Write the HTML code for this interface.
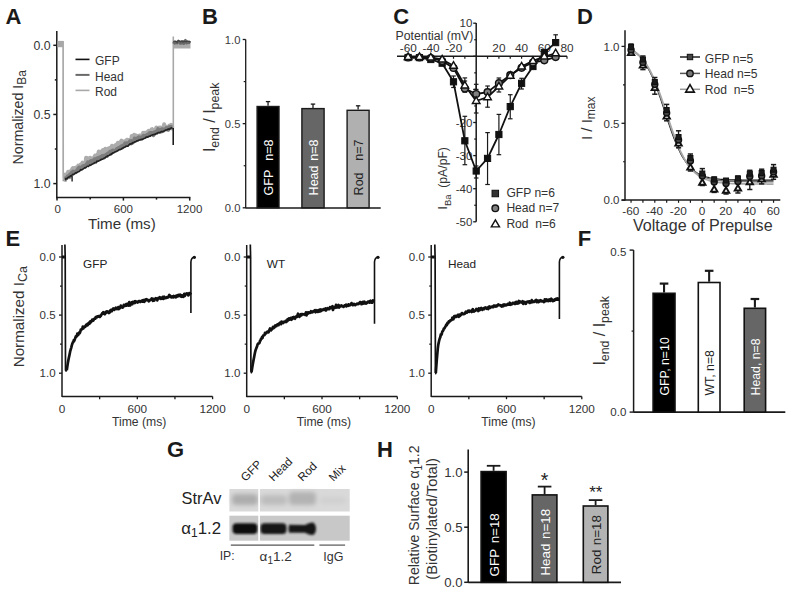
<!DOCTYPE html>
<html><head><meta charset="utf-8"><style>
html,body{margin:0;padding:0;background:#fff;}
svg{display:block;font-family:"Liberation Sans", sans-serif;}
</style></head><body>
<svg width="795" height="593" viewBox="0 0 795 593">
<rect width="795" height="593" fill="#fff"/>
<text x="5.5" y="24" font-size="22" fill="#1a1a1a" text-anchor="start" font-weight="bold" >A</text>
<line x1="56.8" y1="31" x2="56.8" y2="198.35" stroke="#1a1a1a" stroke-width="1.5"/>
<line x1="56.05" y1="197.6" x2="190.45" y2="197.6" stroke="#1a1a1a" stroke-width="1.5"/>
<line x1="53.3" y1="45.3" x2="56.8" y2="45.3" stroke="#1a1a1a" stroke-width="1.5"/>
<line x1="53.3" y1="114.45" x2="56.8" y2="114.45" stroke="#1a1a1a" stroke-width="1.5"/>
<line x1="53.3" y1="183.6" x2="56.8" y2="183.6" stroke="#1a1a1a" stroke-width="1.5"/>
<line x1="54.8" y1="79.88" x2="56.8" y2="79.88" stroke="#1a1a1a" stroke-width="1.5"/>
<line x1="54.8" y1="149.02" x2="56.8" y2="149.02" stroke="#1a1a1a" stroke-width="1.5"/>
<line x1="57" y1="197.6" x2="57" y2="200.6" stroke="#1a1a1a" stroke-width="1.5"/>
<line x1="123.4" y1="197.6" x2="123.4" y2="200.6" stroke="#1a1a1a" stroke-width="1.5"/>
<line x1="189.7" y1="197.6" x2="189.7" y2="200.6" stroke="#1a1a1a" stroke-width="1.5"/>
<line x1="90.2" y1="197.6" x2="90.2" y2="199.6" stroke="#1a1a1a" stroke-width="1.5"/>
<line x1="156.5" y1="197.6" x2="156.5" y2="199.6" stroke="#1a1a1a" stroke-width="1.5"/>
<text x="50.5" y="49.7" font-size="12.3" fill="#333" text-anchor="end" font-weight="normal" >0.0</text>
<text x="50.5" y="118.85" font-size="12.3" fill="#333" text-anchor="end" font-weight="normal" >0.5</text>
<text x="50.5" y="188" font-size="12.3" fill="#333" text-anchor="end" font-weight="normal" >1.0</text>
<text x="57.7" y="212.5" font-size="11.5" fill="#333" text-anchor="middle" font-weight="normal" >0</text>
<text x="123.4" y="212.5" font-size="11.5" fill="#333" text-anchor="middle" font-weight="normal" >600</text>
<text x="189.5" y="212.5" font-size="11.5" fill="#333" text-anchor="middle" font-weight="normal" >1200</text>
<text x="88" y="229.2" font-size="15.2" fill="#333" text-anchor="start" font-weight="normal" >Time (ms)</text>
<text transform="translate(22.8,164.4) rotate(-90)" font-size="14.2" fill="#333" text-anchor="start" >Normalized I<tspan font-size="12" dy="3.5">Ba</tspan></text>
<line x1="75.5" y1="59.4" x2="89.5" y2="59.4" stroke="#111" stroke-width="1.6"/>
<line x1="75.5" y1="74.9" x2="89.5" y2="74.9" stroke="#6a6a6a" stroke-width="2"/>
<line x1="75.5" y1="90.4" x2="89.5" y2="90.4" stroke="#a8a8a8" stroke-width="1.6"/>
<text x="95" y="64.9" font-size="12" fill="#333" text-anchor="start" font-weight="normal" >GFP</text>
<text x="95" y="80.7" font-size="12" fill="#333" text-anchor="start" font-weight="normal" >Head</text>
<text x="95" y="96" font-size="12" fill="#333" text-anchor="start" font-weight="normal" >Rod</text>
<polyline points="64.5,181.36 65.1,174.46 65.7,177.94 66.3,175.87 66.9,175.34 67.5,174.98 68.1,171.77 68.7,173.58 69.3,172 69.9,177.18 70.5,172.15 71.1,170.65 71.7,170.07 72.3,168.95 72.9,168.05 73.5,168.63 74.1,169.49 74.7,168.13 75.3,169.45 75.9,167.47 76.5,167.43 77.1,169.21 77.7,167.45 78.3,165.63 78.9,165.72 79.5,166.38 80.1,167.98 80.7,164.54 81.3,164.22 81.9,165.61 82.5,162.61 83.1,163.09 83.7,164.38 84.3,163.6 84.9,162.56 85.5,163.02 86.1,157.76 86.7,162.8 87.3,159.67 87.9,158.32 88.5,160.69 89.1,160.93 89.7,158.97 90.3,157.74 90.9,158.98 91.5,158.57 92.1,160.31 92.7,159.09 93.3,158.01 93.9,158.99 94.5,156.85 95.1,155.54 95.7,157.35 96.3,157.05 96.9,155.63 97.5,154.53 98.1,155.64 98.7,151.53 99.3,155.69 99.9,155.11 100.5,151.82 101.1,153.9 101.7,152.16 102.3,154.27 102.9,150.06 103.5,151.33 104.1,153.3 104.7,153.62 105.3,148.68 105.9,150.68 106.5,151.51 107.1,149.87 107.7,152.62 108.3,148.4 108.9,150.24 109.5,147.95 110.1,151.06 110.7,148.74 111.3,147.92 111.9,145.71 112.5,150.14 113.1,148.52 113.7,148.19 114.3,148.41 114.9,146.98 115.5,145.27 116.1,144.71 116.7,144.39 117.3,147.1 117.9,142.81 118.5,143.7 119.1,143.76 119.7,144.19 120.3,144.36 120.9,141.55 121.5,140.63 122.1,142.81 122.7,144.27 123.3,143.39 123.9,142.39 124.5,141.4 125.1,142.01 125.7,141.02 126.3,142.26 126.9,139.76 127.5,140.82 128.1,140.23 128.7,140.91 129.3,140.22 129.9,143.23 130.5,141.52 131.1,141.27 131.7,136.08 132.3,138.22 132.9,137.6 133.5,138.95 134.1,134.77 134.7,139.37 135.3,138.97 135.9,135.42 136.5,135.63 137.1,135.64 137.7,136.59 138.3,137.18 138.9,138.92 139.5,135.53 140.1,136.65 140.7,135.55 141.3,137.56 141.9,135.9 142.5,136.53 143.1,132.87 143.7,133.87 144.3,132.76 144.9,135.77 145.5,134.35 146.1,132.76 146.7,132.32 147.3,133.39 147.9,131.49 148.5,130.93 149.1,132.67 149.7,135.21 150.3,131.17 150.9,130.53 151.5,129.49 152.1,129.07 152.7,131.5 153.3,131.77 153.9,130.41 154.5,130.68 155.1,130.19 155.7,130.04 156.3,127.53 156.9,128.84 157.5,129.45 158.1,128.02 158.7,128.27 159.3,127.6 159.9,128.1 160.5,129.58 161.1,127.63 161.7,127.8 162.3,128.97 162.9,128.56 163.5,129.84 164.1,124.36 164.7,128.3 165.3,126.25 165.9,126.95 166.5,127.81 167.1,128.03 167.7,127.84 168.3,126.48 168.9,128.4 169.5,125.62 170.1,125.7 170.7,126.89 171.3,124.88 171.9,128.55 172.5,126.83" fill="none" stroke="#acacac" stroke-width="4.0" stroke-linejoin="round" />
<polyline points="64.5,181.14 65.1,179.03 65.7,178.23 66.3,178.15 66.9,178.08 67.5,176.51 68.1,176.76 68.7,175.93 69.3,176.71 69.9,174.37 70.5,175.22 71.1,173.35 71.7,172.58 72.3,172.32 72.9,171.59 73.5,172.32 74.1,172.69 74.7,171.65 75.3,171.68 75.9,172.15 76.5,170.72 77.1,170.32 77.7,169.6 78.3,168.19 78.9,169.75 79.5,167.39 80.1,168.98 80.7,168.1 81.3,168.68 81.9,167.38 82.5,166.43 83.1,167.04 83.7,165.96 84.3,165.93 84.9,165.76 85.5,165.28 86.1,164.9 86.7,164.04 87.3,164.22 87.9,162.32 88.5,163.56 89.1,162.39 89.7,163.9 90.3,163.69 90.9,160.81 91.5,162.19 92.1,161.67 92.7,160.63 93.3,161.6 93.9,160.5 94.5,159.16 95.1,160.06 95.7,159.86 96.3,159.76 96.9,158.39 97.5,159.57 98.1,159.36 98.7,157.56 99.3,157.65 99.9,157.81 100.5,157.12 101.1,158.67 101.7,157.14 102.3,155.87 102.9,155.75 103.5,156.03 104.1,157.62 104.7,155.34 105.3,155.28 105.9,155.26 106.5,154.49 107.1,156.02 107.7,153.44 108.3,154.13 108.9,153.34 109.5,153.38 110.1,151.61 110.7,153.64 111.3,151.8 111.9,151.6 112.5,150.49 113.1,150.33 113.7,151.04 114.3,151.05 114.9,150.53 115.5,150.57 116.1,149.84 116.7,148.97 117.3,149.28 117.9,148.76 118.5,147.88 119.1,148.21 119.7,148.33 120.3,147.16 120.9,146.41 121.5,146.99 122.1,147.66 122.7,145.69 123.3,145.51 123.9,145.2 124.5,146.01 125.1,143.29 125.7,144.78 126.3,145.16 126.9,143.28 127.5,144.85 128.1,143.81 128.7,142.67 129.3,142.99 129.9,141.33 130.5,141.83 131.1,143.46 131.7,141.01 132.3,142.93 132.9,141.11 133.5,141.69 134.1,140.66 134.7,138.55 135.3,139.61 135.9,139.97 136.5,138.66 137.1,138.26 137.7,139.39 138.3,138.34 138.9,137.26 139.5,137.83 140.1,138.82 140.7,137.51 141.3,138.4 141.9,138.63 142.5,137.2 143.1,136.03 143.7,135.65 144.3,136.43 144.9,136.91 145.5,136.18 146.1,136.16 146.7,135.13 147.3,135.48 147.9,134.63 148.5,134.5 149.1,133.49 149.7,133.02 150.3,133.65 150.9,132.93 151.5,132.85 152.1,133.96 152.7,133.14 153.3,135.35 153.9,133.56 154.5,132.12 155.1,133.05 155.7,132.51 156.3,131.48 156.9,132.71 157.5,131.01 158.1,128.98 158.7,131.86 159.3,130.53 159.9,132.02 160.5,130.11 161.1,129.48 161.7,131.47 162.3,129.17 162.9,129.99 163.5,130.79 164.1,129.52 164.7,129.17 165.3,129.11 165.9,129.51 166.5,127.99 167.1,128.93 167.7,128.7 168.3,129.91 168.9,127.58 169.5,126.92 170.1,128.04 170.7,126.94 171.3,127.29 171.9,126.97 172.5,127.6" fill="none" stroke="#7d7d7d" stroke-width="3.8" stroke-linejoin="round" />
<polyline points="64.5,179.8 65.1,179.7 65.7,178.56 66.3,178.65 66.9,178.97 67.5,177.9 68.1,177.49 68.7,176.93 69.3,177.07 69.9,176.54 70.5,175.73 71.1,175.88 71.7,175.35 72.3,175.12 72.9,174.37 73.5,174.75 74.1,174.02 74.7,173.53 75.3,173.08 75.9,172.83 76.5,172.83 77.1,172.16 77.7,172.23 78.3,171.75 78.9,171.65 79.5,171.16 80.1,170.56 80.7,169.68 81.3,170.01 81.9,169.82 82.5,169.3 83.1,169.09 83.7,168.45 84.3,168.15 84.9,167.65 85.5,168.01 86.1,167.31 86.7,166.79 87.3,166.2 87.9,166.22 88.5,166.37 89.1,165.75 89.7,165.06 90.3,165.38 90.9,165.08 91.5,164.65 92.1,164.29 92.7,164.1 93.3,163.62 93.9,163.39 94.5,162.63 95.1,163.02 95.7,162.34 96.3,162.58 96.9,161.06 97.5,161.59 98.1,161.37 98.7,160.68 99.3,160.62 99.9,160.41 100.5,160.06 101.1,159.42 101.7,159.25 102.3,159.3 102.9,159.08 103.5,158.42 104.1,158.12 104.7,157.86 105.3,157.81 105.9,156.85 106.5,156.44 107.1,156.55 107.7,155.85 108.3,155.67 108.9,155.55 109.5,155.34 110.1,154.54 110.7,154.77 111.3,153.67 111.9,154.04 112.5,153.07 113.1,152.83 113.7,153.08 114.3,152.43 114.9,151.98 115.5,151.76 116.1,151.7 116.7,151.22 117.3,150.9 117.9,150.89 118.5,150.03 119.1,149.77 119.7,149.43 120.3,149.61 120.9,149.25 121.5,149.04 122.1,148.35 122.7,148.01 123.3,148.02 123.9,147.34 124.5,147.41 125.1,147.08 125.7,146.36 126.3,146.24 126.9,145.94 127.5,146.19 128.1,146.15 128.7,145.05 129.3,144.78 129.9,143.8 130.5,144.25 131.1,143.88 131.7,143.27 132.3,143.53 132.9,142.52 133.5,142.63 134.1,142.44 134.7,141.72 135.3,142.06 135.9,141.86 136.5,140.88 137.1,140.63 137.7,140.99 138.3,140.56 138.9,139.96 139.5,140 140.1,139.81 140.7,139.56 141.3,139.61 141.9,139.23 142.5,139.4 143.1,139.04 143.7,138.59 144.3,138.47 144.9,138.3 145.5,137.87 146.1,137.05 146.7,137.43 147.3,136.95 147.9,137.18 148.5,136.48 149.1,136.36 149.7,136.06 150.3,136.23 150.9,135.55 151.5,135.2 152.1,135.17 152.7,134.73 153.3,134.7 153.9,134.44 154.5,134.31 155.1,134.6 155.7,133.69 156.3,133.61 156.9,133.33 157.5,133.38 158.1,132.61 158.7,132.55 159.3,132.53 159.9,132.5 160.5,132.11 161.1,131.76 161.7,131.44 162.3,131.65 162.9,131.72 163.5,131.17 164.1,130.92 164.7,130.78 165.3,130.16 165.9,130.12 166.5,129.89 167.1,129.81 167.7,129.47 168.3,128.87 168.9,129.32 169.5,129.25 170.1,128.41 170.7,128.36 171.3,128.08 171.9,127.99 172.5,127.06" fill="none" stroke="#222" stroke-width="1.6" stroke-linejoin="round" />
<rect x="57.5" y="40.9" width="5.6" height="6.3" fill="#a8a8a8" stroke="none" stroke-width="0"/>
<path d="M63.1,41 L63.2,176 Q63.4,180.5 65,180.8" fill="none" stroke="#a9a9a9" stroke-width="1.7"/>
<line x1="72.1" y1="176" x2="72.1" y2="181.5" stroke="#111" stroke-width="1.3"/>
<line x1="173.2" y1="128" x2="173.2" y2="145" stroke="#111" stroke-width="1.5"/>
<line x1="173.3" y1="36.5" x2="173.3" y2="128" stroke="#a9a9a9" stroke-width="1.6"/>
<rect x="173.5" y="41" width="17" height="7.5" fill="#ababab" stroke="none" stroke-width="0"/>
<polyline points="173.5,43.63 174.1,42.17 174.7,43.38 175.3,42.56 175.9,42.23 176.5,42.4 177.1,43.13 177.7,41.9 178.3,42.24 178.9,42.16 179.5,41.3 180.1,43.41 180.7,42.91 181.3,42.49 181.9,43.31 182.5,41.83 183.1,42.45 183.7,43.71 184.3,43.19 184.9,40.94 185.5,40.17 186.1,41.77 186.7,43.24 187.3,42.17 187.9,42.35 188.5,42.93 189.1,41.88 189.7,42.65 190.3,43.05" fill="none" stroke="#6a6a6a" stroke-width="2.6" stroke-linejoin="round" />
<polyline points="173.5,41.53 174.1,41.5 174.7,41 175.3,41.56 175.9,41.09 176.5,41.95 177.1,42.59 177.7,40.93 178.3,40.21 178.9,41.09 179.5,41.49 180.1,41.83 180.7,41.84 181.3,40.91 181.9,40.9 182.5,41.93 183.1,40.75 183.7,41.85 184.3,41.19 184.9,41.68 185.5,41.65 186.1,41.69 186.7,41.71 187.3,40.81 187.9,41.45 188.5,41.31 189.1,41.45 189.7,41.92 190.3,41.16" fill="none" stroke="#444" stroke-width="1.2" stroke-linejoin="round" />
<text x="202" y="24.3" font-size="22" fill="#1a1a1a" text-anchor="start" font-weight="bold" >B</text>
<line x1="245.7" y1="39.5" x2="245.7" y2="208.3" stroke="#1a1a1a" stroke-width="1.3"/>
<line x1="245.7" y1="208.1" x2="380.7" y2="208.1" stroke="#1a1a1a" stroke-width="1.5"/>
<line x1="242.7" y1="39.5" x2="245.7" y2="39.5" stroke="#1a1a1a" stroke-width="1.3"/>
<line x1="242.7" y1="123.65" x2="245.7" y2="123.65" stroke="#1a1a1a" stroke-width="1.3"/>
<line x1="242.7" y1="207.8" x2="245.7" y2="207.8" stroke="#1a1a1a" stroke-width="1.3"/>
<line x1="243.7" y1="81.58" x2="245.7" y2="81.58" stroke="#1a1a1a" stroke-width="1.2"/>
<line x1="243.7" y1="165.73" x2="245.7" y2="165.73" stroke="#1a1a1a" stroke-width="1.2"/>
<text x="240.4" y="43.7" font-size="11.2" fill="#3a3a3a" text-anchor="end" font-weight="normal" >1.0</text>
<text x="240.4" y="127.85" font-size="11.2" fill="#3a3a3a" text-anchor="end" font-weight="normal" >0.5</text>
<text x="240.4" y="212" font-size="11.2" fill="#3a3a3a" text-anchor="end" font-weight="normal" >0.0</text>
<line x1="268.05" y1="101.6" x2="268.05" y2="105.8" stroke="#1a1a1a" stroke-width="1.3"/>
<line x1="265.85" y1="101.6" x2="270.25" y2="101.6" stroke="#1a1a1a" stroke-width="1.3"/>
<rect x="257.1" y="106.5" width="21.9" height="101.3" fill="#000" stroke="#1a1a1a" stroke-width="1.4"/>
<text transform="translate(272.75,195.4) rotate(-90)" font-size="12.5" fill="#fff" text-anchor="start" >GFP</text>
<text transform="translate(272.75,139.5) rotate(-90)" font-size="12.5" fill="#fff" text-anchor="end" >n=8</text>
<line x1="313" y1="104.1" x2="313" y2="107.9" stroke="#1a1a1a" stroke-width="1.3"/>
<line x1="310.8" y1="104.1" x2="315.2" y2="104.1" stroke="#1a1a1a" stroke-width="1.3"/>
<rect x="301.9" y="108.6" width="22.2" height="99.2" fill="#666" stroke="#1a1a1a" stroke-width="1.4"/>
<text transform="translate(317.7,195.4) rotate(-90)" font-size="12.5" fill="#fff" text-anchor="start" >Head</text>
<text transform="translate(317.7,139.5) rotate(-90)" font-size="12.5" fill="#fff" text-anchor="end" >n=8</text>
<line x1="358.1" y1="105.8" x2="358.1" y2="109.6" stroke="#1a1a1a" stroke-width="1.3"/>
<line x1="355.9" y1="105.8" x2="360.3" y2="105.8" stroke="#1a1a1a" stroke-width="1.3"/>
<rect x="347.1" y="110.3" width="22" height="97.5" fill="#b0b0b0" stroke="#1a1a1a" stroke-width="1.4"/>
<text transform="translate(362.8,195.4) rotate(-90)" font-size="12.5" fill="#222" text-anchor="start" >Rod</text>
<text transform="translate(362.8,139.5) rotate(-90)" font-size="12.5" fill="#222" text-anchor="end" >n=7</text>
<text transform="translate(215.2,152.1) rotate(-90)" font-size="15.8" fill="#333" text-anchor="start" >I<tspan font-size="12.4" dy="3.5">end</tspan><tspan dy="-3.5" xml:space="preserve"> / I</tspan><tspan font-size="12.4" dy="3.5">peak</tspan></text>
<text x="393.2" y="23.9" font-size="22" fill="#1a1a1a" text-anchor="start" font-weight="bold" >C</text>
<line x1="476.2" y1="23" x2="476.2" y2="221.8" stroke="#1a1a1a" stroke-width="1.5"/>
<line x1="397" y1="56.3" x2="567" y2="56.3" stroke="#1a1a1a" stroke-width="1.5"/>
<line x1="473.2" y1="23.2" x2="476.2" y2="23.2" stroke="#1a1a1a" stroke-width="1.3"/>
<line x1="473.2" y1="56.3" x2="476.2" y2="56.3" stroke="#1a1a1a" stroke-width="1.3"/>
<line x1="473.2" y1="89.4" x2="476.2" y2="89.4" stroke="#1a1a1a" stroke-width="1.3"/>
<line x1="473.2" y1="122.5" x2="476.2" y2="122.5" stroke="#1a1a1a" stroke-width="1.3"/>
<line x1="473.2" y1="155.6" x2="476.2" y2="155.6" stroke="#1a1a1a" stroke-width="1.3"/>
<line x1="473.2" y1="188.7" x2="476.2" y2="188.7" stroke="#1a1a1a" stroke-width="1.3"/>
<line x1="473.2" y1="221.8" x2="476.2" y2="221.8" stroke="#1a1a1a" stroke-width="1.3"/>
<line x1="474.2" y1="39.75" x2="476.2" y2="39.75" stroke="#1a1a1a" stroke-width="1.2"/>
<line x1="474.2" y1="72.85" x2="476.2" y2="72.85" stroke="#1a1a1a" stroke-width="1.2"/>
<line x1="474.2" y1="105.95" x2="476.2" y2="105.95" stroke="#1a1a1a" stroke-width="1.2"/>
<line x1="474.2" y1="139.05" x2="476.2" y2="139.05" stroke="#1a1a1a" stroke-width="1.2"/>
<line x1="474.2" y1="172.15" x2="476.2" y2="172.15" stroke="#1a1a1a" stroke-width="1.2"/>
<line x1="474.2" y1="205.25" x2="476.2" y2="205.25" stroke="#1a1a1a" stroke-width="1.2"/>
<line x1="408.1" y1="56.3" x2="408.1" y2="58.8" stroke="#1a1a1a" stroke-width="1.2"/>
<line x1="419.45" y1="56.3" x2="419.45" y2="58.8" stroke="#1a1a1a" stroke-width="1.2"/>
<line x1="430.8" y1="56.3" x2="430.8" y2="58.8" stroke="#1a1a1a" stroke-width="1.2"/>
<line x1="442.15" y1="56.3" x2="442.15" y2="58.8" stroke="#1a1a1a" stroke-width="1.2"/>
<line x1="453.5" y1="56.3" x2="453.5" y2="58.8" stroke="#1a1a1a" stroke-width="1.2"/>
<line x1="464.85" y1="56.3" x2="464.85" y2="58.8" stroke="#1a1a1a" stroke-width="1.2"/>
<line x1="487.55" y1="56.3" x2="487.55" y2="58.8" stroke="#1a1a1a" stroke-width="1.2"/>
<line x1="498.9" y1="56.3" x2="498.9" y2="58.8" stroke="#1a1a1a" stroke-width="1.2"/>
<line x1="510.25" y1="56.3" x2="510.25" y2="58.8" stroke="#1a1a1a" stroke-width="1.2"/>
<line x1="521.6" y1="56.3" x2="521.6" y2="58.8" stroke="#1a1a1a" stroke-width="1.2"/>
<line x1="532.95" y1="56.3" x2="532.95" y2="58.8" stroke="#1a1a1a" stroke-width="1.2"/>
<line x1="544.3" y1="56.3" x2="544.3" y2="58.8" stroke="#1a1a1a" stroke-width="1.2"/>
<line x1="555.65" y1="56.3" x2="555.65" y2="58.8" stroke="#1a1a1a" stroke-width="1.2"/>
<line x1="567" y1="56.3" x2="567" y2="58.8" stroke="#1a1a1a" stroke-width="1.2"/>
<text x="472.3" y="27.4" font-size="11.5" fill="#333" text-anchor="end" font-weight="normal" >10</text>
<text x="472.3" y="126.7" font-size="11.5" fill="#333" text-anchor="end" font-weight="normal" >-20</text>
<text x="472.3" y="159.8" font-size="11.5" fill="#333" text-anchor="end" font-weight="normal" >-30</text>
<text x="472.3" y="192.9" font-size="11.5" fill="#333" text-anchor="end" font-weight="normal" >-40</text>
<text x="472.3" y="226" font-size="11.5" fill="#333" text-anchor="end" font-weight="normal" >-50</text>
<text x="408.3" y="52.2" font-size="11.8" fill="#333" text-anchor="middle" font-weight="normal" >-60</text>
<text x="431" y="52.2" font-size="11.8" fill="#333" text-anchor="middle" font-weight="normal" >-40</text>
<text x="453.7" y="52.2" font-size="11.8" fill="#333" text-anchor="middle" font-weight="normal" >-20</text>
<text x="498.9" y="52.2" font-size="11.8" fill="#333" text-anchor="middle" font-weight="normal" >20</text>
<text x="521.6" y="52.2" font-size="11.8" fill="#333" text-anchor="middle" font-weight="normal" >40</text>
<text x="544.3" y="52.2" font-size="11.8" fill="#333" text-anchor="middle" font-weight="normal" >60</text>
<text x="567" y="52.2" font-size="11.8" fill="#333" text-anchor="middle" font-weight="normal" >80</text>
<text x="395.5" y="39.6" font-size="12.3" fill="#333" text-anchor="start" font-weight="normal" >Potential (mV)</text>
<text transform="translate(447,209.5) rotate(-90)" font-size="12.2" fill="#333" text-anchor="start" >I<tspan font-size="9.5" dy="3.5">Ba</tspan><tspan dy="-3.5" xml:space="preserve">  (pA/pF)</tspan></text>
<line x1="453.5" y1="76" x2="453.5" y2="87.5" stroke="#1a1a1a" stroke-width="1.2"/>
<line x1="451.2" y1="76" x2="455.8" y2="76" stroke="#1a1a1a" stroke-width="1.2"/>
<line x1="451.2" y1="87.5" x2="455.8" y2="87.5" stroke="#1a1a1a" stroke-width="1.2"/>
<line x1="464.85" y1="116.3" x2="464.85" y2="164.7" stroke="#1a1a1a" stroke-width="1.2"/>
<line x1="462.55" y1="116.3" x2="467.15" y2="116.3" stroke="#1a1a1a" stroke-width="1.2"/>
<line x1="462.55" y1="164.7" x2="467.15" y2="164.7" stroke="#1a1a1a" stroke-width="1.2"/>
<line x1="476.2" y1="166" x2="476.2" y2="178" stroke="#1a1a1a" stroke-width="1.2"/>
<line x1="473.9" y1="166" x2="478.5" y2="166" stroke="#1a1a1a" stroke-width="1.2"/>
<line x1="473.9" y1="178" x2="478.5" y2="178" stroke="#1a1a1a" stroke-width="1.2"/>
<line x1="487.55" y1="132.6" x2="487.55" y2="184.5" stroke="#1a1a1a" stroke-width="1.2"/>
<line x1="485.25" y1="132.6" x2="489.85" y2="132.6" stroke="#1a1a1a" stroke-width="1.2"/>
<line x1="485.25" y1="184.5" x2="489.85" y2="184.5" stroke="#1a1a1a" stroke-width="1.2"/>
<line x1="498.9" y1="114.4" x2="498.9" y2="154.7" stroke="#1a1a1a" stroke-width="1.2"/>
<line x1="496.6" y1="114.4" x2="501.2" y2="114.4" stroke="#1a1a1a" stroke-width="1.2"/>
<line x1="496.6" y1="154.7" x2="501.2" y2="154.7" stroke="#1a1a1a" stroke-width="1.2"/>
<line x1="510.25" y1="94.7" x2="510.25" y2="118.8" stroke="#1a1a1a" stroke-width="1.2"/>
<line x1="507.95" y1="94.7" x2="512.55" y2="94.7" stroke="#1a1a1a" stroke-width="1.2"/>
<line x1="507.95" y1="118.8" x2="512.55" y2="118.8" stroke="#1a1a1a" stroke-width="1.2"/>
<line x1="521.6" y1="78.3" x2="521.6" y2="89" stroke="#1a1a1a" stroke-width="1.2"/>
<line x1="519.3" y1="78.3" x2="523.9" y2="78.3" stroke="#1a1a1a" stroke-width="1.2"/>
<line x1="519.3" y1="89" x2="523.9" y2="89" stroke="#1a1a1a" stroke-width="1.2"/>
<line x1="555.65" y1="34.8" x2="555.65" y2="42.6" stroke="#1a1a1a" stroke-width="1.2"/>
<line x1="553.35" y1="34.8" x2="557.95" y2="34.8" stroke="#1a1a1a" stroke-width="1.2"/>
<line x1="553.35" y1="42.6" x2="557.95" y2="42.6" stroke="#1a1a1a" stroke-width="1.2"/>
<line x1="464.85" y1="81" x2="464.85" y2="92" stroke="#1a1a1a" stroke-width="1.2"/>
<line x1="462.55" y1="81" x2="467.15" y2="81" stroke="#1a1a1a" stroke-width="1.2"/>
<line x1="462.55" y1="92" x2="467.15" y2="92" stroke="#1a1a1a" stroke-width="1.2"/>
<line x1="487.55" y1="86" x2="487.55" y2="98" stroke="#1a1a1a" stroke-width="1.2"/>
<line x1="485.25" y1="86" x2="489.85" y2="86" stroke="#1a1a1a" stroke-width="1.2"/>
<line x1="485.25" y1="98" x2="489.85" y2="98" stroke="#1a1a1a" stroke-width="1.2"/>
<line x1="498.9" y1="78" x2="498.9" y2="88" stroke="#1a1a1a" stroke-width="1.2"/>
<line x1="496.6" y1="78" x2="501.2" y2="78" stroke="#1a1a1a" stroke-width="1.2"/>
<line x1="496.6" y1="88" x2="501.2" y2="88" stroke="#1a1a1a" stroke-width="1.2"/>
<line x1="476.2" y1="84.3" x2="476.2" y2="100" stroke="#1a1a1a" stroke-width="1.2"/>
<line x1="473.9" y1="84.3" x2="478.5" y2="84.3" stroke="#1a1a1a" stroke-width="1.2"/>
<line x1="473.9" y1="100" x2="478.5" y2="100" stroke="#1a1a1a" stroke-width="1.2"/>
<line x1="464.85" y1="77.9" x2="464.85" y2="92" stroke="#1a1a1a" stroke-width="1.2"/>
<line x1="462.55" y1="77.9" x2="467.15" y2="77.9" stroke="#1a1a1a" stroke-width="1.2"/>
<line x1="462.55" y1="92" x2="467.15" y2="92" stroke="#1a1a1a" stroke-width="1.2"/>
<line x1="487.55" y1="92" x2="487.55" y2="107.2" stroke="#1a1a1a" stroke-width="1.2"/>
<line x1="485.25" y1="92" x2="489.85" y2="92" stroke="#1a1a1a" stroke-width="1.2"/>
<line x1="485.25" y1="107.2" x2="489.85" y2="107.2" stroke="#1a1a1a" stroke-width="1.2"/>
<line x1="498.9" y1="80" x2="498.9" y2="92" stroke="#1a1a1a" stroke-width="1.2"/>
<line x1="496.6" y1="80" x2="501.2" y2="80" stroke="#1a1a1a" stroke-width="1.2"/>
<line x1="496.6" y1="92" x2="501.2" y2="92" stroke="#1a1a1a" stroke-width="1.2"/>
<line x1="476.2" y1="89.4" x2="476.2" y2="113" stroke="#1a1a1a" stroke-width="1.2"/>
<line x1="473.9" y1="89.4" x2="478.5" y2="89.4" stroke="#1a1a1a" stroke-width="1.2"/>
<line x1="473.9" y1="113" x2="478.5" y2="113" stroke="#1a1a1a" stroke-width="1.2"/>
<polyline points="408.1,57.5 419.45,57.6 430.8,59.5 442.15,63.2 453.5,81.8 464.85,140.8 476.2,171 487.55,158.4 498.9,134.5 510.25,106.6 521.6,83.3 532.95,66.5 544.3,52.5 555.65,42.6" fill="none" stroke="#111" stroke-width="1.8" stroke-linejoin="round" />
<polyline points="408.1,57.5 419.45,57.5 430.8,58 442.15,61 453.5,68 464.85,88.5 476.2,94 487.55,92.1 498.9,83.3 510.25,75.2 521.6,67.8 532.95,62.5 544.3,60.3 555.65,57.1" fill="none" stroke="#111" stroke-width="1.8" stroke-linejoin="round" />
<polyline points="408.1,57 419.45,57 430.8,57.5 442.15,59.5 453.5,65.8 464.85,85.5 476.2,101 487.55,97.2 498.9,86.5 510.25,75.8 521.6,66.5 532.95,60.9 544.3,56.5 555.65,53.3" fill="none" stroke="#111" stroke-width="1.8" stroke-linejoin="round" />
<rect x="405" y="54.4" width="6.2" height="6.2" fill="#111" stroke="#111" stroke-width="1"/>
<rect x="416.35" y="54.5" width="6.2" height="6.2" fill="#111" stroke="#111" stroke-width="1"/>
<rect x="427.7" y="56.4" width="6.2" height="6.2" fill="#111" stroke="#111" stroke-width="1"/>
<rect x="439.05" y="60.1" width="6.2" height="6.2" fill="#111" stroke="#111" stroke-width="1"/>
<rect x="450.4" y="78.7" width="6.2" height="6.2" fill="#111" stroke="#111" stroke-width="1"/>
<rect x="461.75" y="137.7" width="6.2" height="6.2" fill="#111" stroke="#111" stroke-width="1"/>
<rect x="473.1" y="167.9" width="6.2" height="6.2" fill="#111" stroke="#111" stroke-width="1"/>
<rect x="484.45" y="155.3" width="6.2" height="6.2" fill="#111" stroke="#111" stroke-width="1"/>
<rect x="495.8" y="131.4" width="6.2" height="6.2" fill="#111" stroke="#111" stroke-width="1"/>
<rect x="507.15" y="103.5" width="6.2" height="6.2" fill="#111" stroke="#111" stroke-width="1"/>
<rect x="518.5" y="80.2" width="6.2" height="6.2" fill="#111" stroke="#111" stroke-width="1"/>
<rect x="529.85" y="63.4" width="6.2" height="6.2" fill="#111" stroke="#111" stroke-width="1"/>
<rect x="541.2" y="49.4" width="6.2" height="6.2" fill="#111" stroke="#111" stroke-width="1"/>
<rect x="552.55" y="39.5" width="6.2" height="6.2" fill="#111" stroke="#111" stroke-width="1"/>
<circle cx="408.1" cy="57.5" r="3.4" fill="#808080" stroke="#111" stroke-width="1.4"/>
<circle cx="419.45" cy="57.5" r="3.4" fill="#808080" stroke="#111" stroke-width="1.4"/>
<circle cx="430.8" cy="58" r="3.4" fill="#808080" stroke="#111" stroke-width="1.4"/>
<circle cx="442.15" cy="61" r="3.4" fill="#808080" stroke="#111" stroke-width="1.4"/>
<circle cx="453.5" cy="68" r="3.4" fill="#808080" stroke="#111" stroke-width="1.4"/>
<circle cx="464.85" cy="88.5" r="3.4" fill="#808080" stroke="#111" stroke-width="1.4"/>
<circle cx="476.2" cy="94" r="3.4" fill="#808080" stroke="#111" stroke-width="1.4"/>
<circle cx="487.55" cy="92.1" r="3.4" fill="#808080" stroke="#111" stroke-width="1.4"/>
<circle cx="498.9" cy="83.3" r="3.4" fill="#808080" stroke="#111" stroke-width="1.4"/>
<circle cx="510.25" cy="75.2" r="3.4" fill="#808080" stroke="#111" stroke-width="1.4"/>
<circle cx="521.6" cy="67.8" r="3.4" fill="#808080" stroke="#111" stroke-width="1.4"/>
<circle cx="532.95" cy="62.5" r="3.4" fill="#808080" stroke="#111" stroke-width="1.4"/>
<circle cx="544.3" cy="60.3" r="3.4" fill="#808080" stroke="#111" stroke-width="1.4"/>
<circle cx="555.65" cy="57.1" r="3.4" fill="#808080" stroke="#111" stroke-width="1.4"/>
<path d="M408.1,52.9 L411.9,59.51 L404.3,59.51 Z" fill="#fff" stroke="#111" stroke-width="1.4" stroke-linejoin="miter"/>
<path d="M419.45,52.9 L423.25,59.51 L415.65,59.51 Z" fill="#fff" stroke="#111" stroke-width="1.4" stroke-linejoin="miter"/>
<path d="M430.8,53.4 L434.6,60.01 L427,60.01 Z" fill="#fff" stroke="#111" stroke-width="1.4" stroke-linejoin="miter"/>
<path d="M442.15,55.4 L445.95,62.01 L438.35,62.01 Z" fill="#fff" stroke="#111" stroke-width="1.4" stroke-linejoin="miter"/>
<path d="M453.5,61.7 L457.3,68.31 L449.7,68.31 Z" fill="#fff" stroke="#111" stroke-width="1.4" stroke-linejoin="miter"/>
<path d="M464.85,81.4 L468.65,88.01 L461.05,88.01 Z" fill="#fff" stroke="#111" stroke-width="1.4" stroke-linejoin="miter"/>
<path d="M476.2,96.9 L480,103.51 L472.4,103.51 Z" fill="#fff" stroke="#111" stroke-width="1.4" stroke-linejoin="miter"/>
<path d="M487.55,93.1 L491.35,99.71 L483.75,99.71 Z" fill="#fff" stroke="#111" stroke-width="1.4" stroke-linejoin="miter"/>
<path d="M498.9,82.4 L502.7,89.01 L495.1,89.01 Z" fill="#fff" stroke="#111" stroke-width="1.4" stroke-linejoin="miter"/>
<path d="M510.25,71.7 L514.05,78.31 L506.45,78.31 Z" fill="#fff" stroke="#111" stroke-width="1.4" stroke-linejoin="miter"/>
<path d="M521.6,62.4 L525.4,69.01 L517.8,69.01 Z" fill="#fff" stroke="#111" stroke-width="1.4" stroke-linejoin="miter"/>
<path d="M532.95,56.8 L536.75,63.41 L529.15,63.41 Z" fill="#fff" stroke="#111" stroke-width="1.4" stroke-linejoin="miter"/>
<path d="M544.3,52.4 L548.1,59.01 L540.5,59.01 Z" fill="#fff" stroke="#111" stroke-width="1.4" stroke-linejoin="miter"/>
<path d="M555.65,49.2 L559.45,55.81 L551.85,55.81 Z" fill="#fff" stroke="#111" stroke-width="1.4" stroke-linejoin="miter"/>
<rect x="492.05" y="190.25" width="6.5" height="6.5" fill="#333" stroke="#111" stroke-width="1"/>
<circle cx="495.3" cy="208.3" r="3.3" fill="#808080" stroke="#111" stroke-width="1.4"/>
<path d="M495.4,219.78 L499.5,226.91 L491.3,226.91 Z" fill="#fff" stroke="#111" stroke-width="1.4" stroke-linejoin="miter"/>
<text x="506.4" y="197" font-size="12.1" fill="#333" text-anchor="start" font-weight="normal" >GFP n=6</text>
<text x="506.4" y="212" font-size="12.1" fill="#333" text-anchor="start" font-weight="normal" >Head n=7</text>
<text x="506.4" y="228.4" font-size="12.1" fill="#333" text-anchor="start" font-weight="normal" xml:space="preserve">Rod  n=6</text>
<text x="577" y="24" font-size="22" fill="#1a1a1a" text-anchor="start" font-weight="bold" >D</text>
<line x1="625" y1="30.2" x2="625" y2="200.5" stroke="#1a1a1a" stroke-width="1.5"/>
<line x1="621.6" y1="200.1" x2="780.3" y2="200.1" stroke="#1a1a1a" stroke-width="1.5"/>
<line x1="621.5" y1="200.2" x2="625" y2="200.2" stroke="#1a1a1a" stroke-width="1.3"/>
<line x1="621.5" y1="123.3" x2="625" y2="123.3" stroke="#1a1a1a" stroke-width="1.3"/>
<line x1="621.5" y1="46.4" x2="625" y2="46.4" stroke="#1a1a1a" stroke-width="1.3"/>
<line x1="623" y1="161.75" x2="625" y2="161.75" stroke="#1a1a1a" stroke-width="1.2"/>
<line x1="623" y1="84.85" x2="625" y2="84.85" stroke="#1a1a1a" stroke-width="1.2"/>
<line x1="631.05" y1="200.1" x2="631.05" y2="202.8" stroke="#1a1a1a" stroke-width="1.2"/>
<line x1="642.92" y1="200.1" x2="642.92" y2="202.8" stroke="#1a1a1a" stroke-width="1.2"/>
<line x1="654.8" y1="200.1" x2="654.8" y2="202.8" stroke="#1a1a1a" stroke-width="1.2"/>
<line x1="666.67" y1="200.1" x2="666.67" y2="202.8" stroke="#1a1a1a" stroke-width="1.2"/>
<line x1="678.55" y1="200.1" x2="678.55" y2="202.8" stroke="#1a1a1a" stroke-width="1.2"/>
<line x1="690.42" y1="200.1" x2="690.42" y2="202.8" stroke="#1a1a1a" stroke-width="1.2"/>
<line x1="702.3" y1="200.1" x2="702.3" y2="202.8" stroke="#1a1a1a" stroke-width="1.2"/>
<line x1="714.17" y1="200.1" x2="714.17" y2="202.8" stroke="#1a1a1a" stroke-width="1.2"/>
<line x1="726.05" y1="200.1" x2="726.05" y2="202.8" stroke="#1a1a1a" stroke-width="1.2"/>
<line x1="737.92" y1="200.1" x2="737.92" y2="202.8" stroke="#1a1a1a" stroke-width="1.2"/>
<line x1="749.8" y1="200.1" x2="749.8" y2="202.8" stroke="#1a1a1a" stroke-width="1.2"/>
<line x1="761.67" y1="200.1" x2="761.67" y2="202.8" stroke="#1a1a1a" stroke-width="1.2"/>
<line x1="773.55" y1="200.1" x2="773.55" y2="202.8" stroke="#1a1a1a" stroke-width="1.2"/>
<text x="619.5" y="204.4" font-size="11.5" fill="#333" text-anchor="end" font-weight="normal" >0.0</text>
<text x="619.5" y="127.5" font-size="11.5" fill="#333" text-anchor="end" font-weight="normal" >0.5</text>
<text x="619.5" y="50.6" font-size="11.5" fill="#333" text-anchor="end" font-weight="normal" >1.0</text>
<text x="630.75" y="215.4" font-size="11.8" fill="#333" text-anchor="middle" font-weight="normal" >-60</text>
<text x="654.5" y="215.4" font-size="11.8" fill="#333" text-anchor="middle" font-weight="normal" >-40</text>
<text x="678.25" y="215.4" font-size="11.8" fill="#333" text-anchor="middle" font-weight="normal" >-20</text>
<text x="702" y="215.4" font-size="11.8" fill="#333" text-anchor="middle" font-weight="normal" >0</text>
<text x="725.75" y="215.4" font-size="11.8" fill="#333" text-anchor="middle" font-weight="normal" >20</text>
<text x="749.5" y="215.4" font-size="11.8" fill="#333" text-anchor="middle" font-weight="normal" >40</text>
<text x="773.25" y="215.4" font-size="11.8" fill="#333" text-anchor="middle" font-weight="normal" >60</text>
<text x="633" y="230.8" font-size="16.1" fill="#333" text-anchor="start" font-weight="normal" >Voltage of Prepulse</text>
<text transform="translate(591.5,140) rotate(-90)" font-size="15" fill="#333" text-anchor="start" >I / I<tspan font-size="12" dy="3.5">max</tspan></text>
<polyline points="631.05,49.62 632.24,50.29 633.42,51.03 634.61,51.84 635.8,52.73 636.99,53.71 638.17,54.78 639.36,55.94 640.55,57.22 641.74,58.6 642.92,60.11 644.11,61.74 645.3,63.5 646.49,65.4 647.67,67.44 648.86,69.62 650.05,71.96 651.24,74.44 652.42,77.07 653.61,79.85 654.8,82.77 655.99,85.82 657.17,89 658.36,92.29 659.55,95.69 660.74,99.17 661.92,102.72 663.11,106.32 664.3,109.95 665.49,113.58 666.67,117.21 667.86,120.81 669.05,124.36 670.24,127.84 671.42,131.24 672.61,134.53 673.8,137.71 674.99,140.76 676.17,143.68 677.36,146.46 678.55,149.09 679.74,151.57 680.92,153.91 682.11,156.09 683.3,158.13 684.49,160.03 685.67,161.79 686.86,163.42 688.05,164.93 689.24,166.31 690.42,167.59 691.61,168.75 692.8,169.82 693.99,170.8 695.17,171.69 696.36,172.5 697.55,173.24 698.74,173.91 699.92,174.52 701.11,175.07 702.3,175.57 703.49,176.02 704.67,176.43 705.86,176.81 707.05,177.14 708.24,177.44 709.42,177.72 710.61,177.97 711.8,178.19 712.99,178.39 714.17,178.57 715.36,178.73 716.55,178.88 717.74,179.01 718.92,179.13 720.11,179.24 721.3,179.34 722.49,179.42 723.67,179.5 724.86,179.57 726.05,179.64 727.24,179.69 728.42,179.75 729.61,179.79 730.8,179.83 731.99,179.87 733.17,179.9 734.36,179.94 735.55,179.96 736.74,179.99 737.92,180.01 739.11,180.03 740.3,180.05 741.49,180.06 742.67,180.08 743.86,180.09 745.05,180.1 746.24,180.11 747.42,180.12 748.61,180.13 749.8,180.14 750.99,180.14 752.17,180.15 753.36,180.16 754.55,180.16 755.74,180.17 756.92,180.17 758.11,180.17 759.3,180.18 760.49,180.18 761.67,180.18 762.86,180.18 764.05,180.19 765.24,180.19 766.42,180.19 767.61,180.19 768.8,180.19 769.99,180.19 771.17,180.2 772.36,180.2 773.55,180.2" fill="none" stroke="#111" stroke-width="1.2" stroke-linejoin="round" />
<polyline points="631.05,49.63 632.24,50.29 633.42,51.01 634.61,51.81 635.8,52.67 636.99,53.62 638.17,54.66 639.36,55.79 640.55,57.03 641.74,58.37 642.92,59.82 644.11,61.4 645.3,63.1 646.49,64.93 647.67,66.9 648.86,69.01 650.05,71.26 651.24,73.65 652.42,76.19 653.61,78.87 654.8,81.7 655.99,84.65 657.17,87.73 658.36,90.93 659.55,94.23 660.74,97.63 661.92,101.1 663.11,104.64 664.3,108.21 665.49,111.81 666.67,115.42 667.86,119 669.05,122.56 670.24,126.06 671.42,129.48 672.61,132.83 673.8,136.07 674.99,139.2 676.17,142.21 677.36,145.08 678.55,147.82 679.74,150.42 680.92,152.87 682.11,155.18 683.3,157.34 684.49,159.37 685.67,161.25 686.86,163 688.05,164.63 689.24,166.13 690.42,167.52 691.61,168.79 692.8,169.96 693.99,171.04 695.17,172.02 696.36,172.92 697.55,173.75 698.74,174.5 699.92,175.18 701.11,175.8 702.3,176.37 703.49,176.88 704.67,177.35 705.86,177.77 707.05,178.15 708.24,178.5 709.42,178.81 710.61,179.1 711.8,179.35 712.99,179.59 714.17,179.8 715.36,179.99 716.55,180.16 717.74,180.31 718.92,180.45 720.11,180.58 721.3,180.7 722.49,180.8 723.67,180.89 724.86,180.98 726.05,181.05 727.24,181.12 728.42,181.18 729.61,181.24 730.8,181.29 731.99,181.33 733.17,181.37 734.36,181.41 735.55,181.44 736.74,181.47 737.92,181.5 739.11,181.52 740.3,181.54 741.49,181.56 742.67,181.58 743.86,181.6 745.05,181.61 746.24,181.63 747.42,181.64 748.61,181.65 749.8,181.66 750.99,181.67 752.17,181.67 753.36,181.68 754.55,181.69 755.74,181.69 756.92,181.7 758.11,181.7 759.3,181.71 760.49,181.71 761.67,181.71 762.86,181.72 764.05,181.72 765.24,181.72 766.42,181.72 767.61,181.73 768.8,181.73 769.99,181.73 771.17,181.73 772.36,181.73 773.55,181.73" fill="none" stroke="#777" stroke-width="1.4" stroke-linejoin="round" />
<polyline points="631.05,49.62 632.24,50.26 633.42,50.97 634.61,51.74 635.8,52.58 636.99,53.51 638.17,54.51 639.36,55.61 640.55,56.8 641.74,58.1 642.92,59.51 644.11,61.02 645.3,62.67 646.49,64.43 647.67,66.33 648.86,68.36 650.05,70.53 651.24,72.84 652.42,75.29 653.61,77.88 654.8,80.61 655.99,83.47 657.17,86.46 658.36,89.57 659.55,92.8 660.74,96.12 661.92,99.52 663.11,103 664.3,106.53 665.49,110.1 666.67,113.69 667.86,117.27 669.05,120.84 670.24,124.37 671.42,127.85 672.61,131.26 673.8,134.58 674.99,137.8 676.17,140.91 677.36,143.9 678.55,146.77 679.74,149.49 680.92,152.09 682.11,154.54 683.3,156.85 684.49,159.02 685.67,161.05 686.86,162.94 688.05,164.71 689.24,166.35 690.42,167.87 691.61,169.27 692.8,170.57 693.99,171.76 695.17,172.86 696.36,173.87 697.55,174.79 698.74,175.64 699.92,176.41 701.11,177.11 702.3,177.76 703.49,178.34 704.67,178.87 705.86,179.36 707.05,179.8 708.24,180.2 709.42,180.57 710.61,180.9 711.8,181.2 712.99,181.47 714.17,181.71 715.36,181.94 716.55,182.14 717.74,182.32 718.92,182.49 720.11,182.64 721.3,182.77 722.49,182.9 723.67,183.01 724.86,183.11 726.05,183.2 727.24,183.28 728.42,183.36 729.61,183.42 730.8,183.48 731.99,183.54 733.17,183.59 734.36,183.63 735.55,183.67 736.74,183.71 737.92,183.74 739.11,183.77 740.3,183.8 741.49,183.82 742.67,183.85 743.86,183.87 745.05,183.88 746.24,183.9 747.42,183.91 748.61,183.93 749.8,183.94 750.99,183.95 752.17,183.96 753.36,183.97 754.55,183.98 755.74,183.98 756.92,183.99 758.11,184 759.3,184 760.49,184.01 761.67,184.01 762.86,184.01 764.05,184.02 765.24,184.02 766.42,184.02 767.61,184.03 768.8,184.03 769.99,184.03 771.17,184.03 772.36,184.03 773.55,184.04" fill="none" stroke="#a8a8a8" stroke-width="1.7" stroke-linejoin="round" />
<line x1="631.05" y1="44" x2="631.05" y2="55" stroke="#1a1a1a" stroke-width="1.4"/>
<line x1="628.45" y1="44" x2="633.65" y2="44" stroke="#1a1a1a" stroke-width="1.5"/>
<line x1="628.45" y1="55" x2="633.65" y2="55" stroke="#1a1a1a" stroke-width="1.5"/>
<line x1="642.92" y1="56" x2="642.92" y2="69.6" stroke="#1a1a1a" stroke-width="1.4"/>
<line x1="640.32" y1="56" x2="645.52" y2="56" stroke="#1a1a1a" stroke-width="1.5"/>
<line x1="640.32" y1="69.6" x2="645.52" y2="69.6" stroke="#1a1a1a" stroke-width="1.5"/>
<line x1="654.8" y1="77.5" x2="654.8" y2="94.2" stroke="#1a1a1a" stroke-width="1.4"/>
<line x1="652.2" y1="77.5" x2="657.4" y2="77.5" stroke="#1a1a1a" stroke-width="1.5"/>
<line x1="652.2" y1="94.2" x2="657.4" y2="94.2" stroke="#1a1a1a" stroke-width="1.5"/>
<line x1="666.67" y1="104.4" x2="666.67" y2="120.8" stroke="#1a1a1a" stroke-width="1.4"/>
<line x1="664.07" y1="104.4" x2="669.27" y2="104.4" stroke="#1a1a1a" stroke-width="1.5"/>
<line x1="664.07" y1="120.8" x2="669.27" y2="120.8" stroke="#1a1a1a" stroke-width="1.5"/>
<line x1="678.55" y1="130.8" x2="678.55" y2="147.8" stroke="#1a1a1a" stroke-width="1.4"/>
<line x1="675.95" y1="130.8" x2="681.15" y2="130.8" stroke="#1a1a1a" stroke-width="1.5"/>
<line x1="675.95" y1="147.8" x2="681.15" y2="147.8" stroke="#1a1a1a" stroke-width="1.5"/>
<line x1="690.42" y1="154" x2="690.42" y2="171" stroke="#1a1a1a" stroke-width="1.4"/>
<line x1="687.82" y1="154" x2="693.02" y2="154" stroke="#1a1a1a" stroke-width="1.5"/>
<line x1="687.82" y1="171" x2="693.02" y2="171" stroke="#1a1a1a" stroke-width="1.5"/>
<line x1="702.3" y1="168.6" x2="702.3" y2="185.5" stroke="#1a1a1a" stroke-width="1.4"/>
<line x1="699.7" y1="168.6" x2="704.9" y2="168.6" stroke="#1a1a1a" stroke-width="1.5"/>
<line x1="699.7" y1="185.5" x2="704.9" y2="185.5" stroke="#1a1a1a" stroke-width="1.5"/>
<line x1="714.17" y1="177" x2="714.17" y2="192.4" stroke="#1a1a1a" stroke-width="1.4"/>
<line x1="711.57" y1="177" x2="716.77" y2="177" stroke="#1a1a1a" stroke-width="1.5"/>
<line x1="711.57" y1="192.4" x2="716.77" y2="192.4" stroke="#1a1a1a" stroke-width="1.5"/>
<line x1="726.05" y1="178.8" x2="726.05" y2="194" stroke="#1a1a1a" stroke-width="1.4"/>
<line x1="723.45" y1="178.8" x2="728.65" y2="178.8" stroke="#1a1a1a" stroke-width="1.5"/>
<line x1="723.45" y1="194" x2="728.65" y2="194" stroke="#1a1a1a" stroke-width="1.5"/>
<line x1="737.92" y1="176" x2="737.92" y2="193" stroke="#1a1a1a" stroke-width="1.4"/>
<line x1="735.32" y1="176" x2="740.52" y2="176" stroke="#1a1a1a" stroke-width="1.5"/>
<line x1="735.32" y1="193" x2="740.52" y2="193" stroke="#1a1a1a" stroke-width="1.5"/>
<line x1="749.8" y1="170.3" x2="749.8" y2="189.5" stroke="#1a1a1a" stroke-width="1.4"/>
<line x1="747.2" y1="170.3" x2="752.4" y2="170.3" stroke="#1a1a1a" stroke-width="1.5"/>
<line x1="747.2" y1="189.5" x2="752.4" y2="189.5" stroke="#1a1a1a" stroke-width="1.5"/>
<line x1="761.67" y1="169.2" x2="761.67" y2="183.9" stroke="#1a1a1a" stroke-width="1.4"/>
<line x1="759.07" y1="169.2" x2="764.27" y2="169.2" stroke="#1a1a1a" stroke-width="1.5"/>
<line x1="759.07" y1="183.9" x2="764.27" y2="183.9" stroke="#1a1a1a" stroke-width="1.5"/>
<line x1="773.55" y1="164.6" x2="773.55" y2="179.3" stroke="#1a1a1a" stroke-width="1.4"/>
<line x1="770.95" y1="164.6" x2="776.15" y2="164.6" stroke="#1a1a1a" stroke-width="1.5"/>
<line x1="770.95" y1="179.3" x2="776.15" y2="179.3" stroke="#1a1a1a" stroke-width="1.5"/>
<path d="M631.05,49.55 L634.25,55.12 L627.85,55.12 Z" fill="#fff" stroke="#111" stroke-width="1.9" stroke-linejoin="miter"/>
<circle cx="631.05" cy="50" r="3.0" fill="#444" stroke="#111" stroke-width="1.4"/>
<rect x="628.55" y="44.5" width="5" height="5" fill="#1a1a1a" stroke="#111" stroke-width="1"/>
<path d="M642.92,62.05 L646.12,67.62 L639.72,67.62 Z" fill="#fff" stroke="#111" stroke-width="1.9" stroke-linejoin="miter"/>
<circle cx="642.92" cy="62.5" r="3.0" fill="#444" stroke="#111" stroke-width="1.4"/>
<rect x="640.42" y="57" width="5" height="5" fill="#1a1a1a" stroke="#111" stroke-width="1"/>
<path d="M654.8,84.55 L658,90.12 L651.6,90.12 Z" fill="#fff" stroke="#111" stroke-width="1.9" stroke-linejoin="miter"/>
<circle cx="654.8" cy="84.5" r="3.0" fill="#444" stroke="#111" stroke-width="1.4"/>
<rect x="652.3" y="79.5" width="5" height="5" fill="#1a1a1a" stroke="#111" stroke-width="1"/>
<path d="M666.67,113.05 L669.88,118.62 L663.47,118.62 Z" fill="#fff" stroke="#111" stroke-width="1.9" stroke-linejoin="miter"/>
<circle cx="666.67" cy="113" r="3.0" fill="#444" stroke="#111" stroke-width="1.4"/>
<rect x="664.17" y="107.5" width="5" height="5" fill="#1a1a1a" stroke="#111" stroke-width="1"/>
<path d="M678.55,140.05 L681.75,145.62 L675.35,145.62 Z" fill="#fff" stroke="#111" stroke-width="1.9" stroke-linejoin="miter"/>
<circle cx="678.55" cy="140" r="3.0" fill="#444" stroke="#111" stroke-width="1.4"/>
<rect x="676.05" y="134.5" width="5" height="5" fill="#1a1a1a" stroke="#111" stroke-width="1"/>
<path d="M690.42,164.05 L693.62,169.62 L687.22,169.62 Z" fill="#fff" stroke="#111" stroke-width="1.9" stroke-linejoin="miter"/>
<circle cx="690.42" cy="161" r="3.0" fill="#444" stroke="#111" stroke-width="1.4"/>
<rect x="687.92" y="155.5" width="5" height="5" fill="#1a1a1a" stroke="#111" stroke-width="1"/>
<path d="M702.3,179.25 L705.5,184.82 L699.1,184.82 Z" fill="#fff" stroke="#111" stroke-width="1.9" stroke-linejoin="miter"/>
<circle cx="702.3" cy="176" r="3.0" fill="#444" stroke="#111" stroke-width="1.4"/>
<rect x="699.8" y="171" width="5" height="5" fill="#1a1a1a" stroke="#111" stroke-width="1"/>
<path d="M714.17,186.05 L717.38,191.62 L710.97,191.62 Z" fill="#fff" stroke="#111" stroke-width="1.9" stroke-linejoin="miter"/>
<circle cx="714.17" cy="182" r="3.0" fill="#444" stroke="#111" stroke-width="1.4"/>
<rect x="711.67" y="177" width="5" height="5" fill="#1a1a1a" stroke="#111" stroke-width="1"/>
<path d="M726.05,187.25 L729.25,192.82 L722.85,192.82 Z" fill="#fff" stroke="#111" stroke-width="1.9" stroke-linejoin="miter"/>
<circle cx="726.05" cy="183.5" r="3.0" fill="#444" stroke="#111" stroke-width="1.4"/>
<rect x="723.55" y="178" width="5" height="5" fill="#1a1a1a" stroke="#111" stroke-width="1"/>
<path d="M737.92,184.95 L741.12,190.52 L734.72,190.52 Z" fill="#fff" stroke="#111" stroke-width="1.9" stroke-linejoin="miter"/>
<circle cx="737.92" cy="181.5" r="3.0" fill="#444" stroke="#111" stroke-width="1.4"/>
<rect x="735.42" y="176" width="5" height="5" fill="#1a1a1a" stroke="#111" stroke-width="1"/>
<path d="M749.8,178.75 L753,184.32 L746.6,184.32 Z" fill="#fff" stroke="#111" stroke-width="1.9" stroke-linejoin="miter"/>
<circle cx="749.8" cy="176.5" r="3.0" fill="#444" stroke="#111" stroke-width="1.4"/>
<rect x="747.3" y="171.2" width="5" height="5" fill="#1a1a1a" stroke="#111" stroke-width="1"/>
<path d="M761.67,175.85 L764.88,181.42 L758.47,181.42 Z" fill="#fff" stroke="#111" stroke-width="1.9" stroke-linejoin="miter"/>
<circle cx="761.67" cy="176" r="3.0" fill="#444" stroke="#111" stroke-width="1.4"/>
<rect x="759.17" y="170.5" width="5" height="5" fill="#1a1a1a" stroke="#111" stroke-width="1"/>
<path d="M773.55,171.35 L776.75,176.92 L770.35,176.92 Z" fill="#fff" stroke="#111" stroke-width="1.9" stroke-linejoin="miter"/>
<circle cx="773.55" cy="172" r="3.0" fill="#444" stroke="#111" stroke-width="1.4"/>
<rect x="771.05" y="167.2" width="5" height="5" fill="#1a1a1a" stroke="#111" stroke-width="1"/>
<line x1="680" y1="57" x2="700" y2="57" stroke="#222" stroke-width="1.5"/>
<rect x="687.3" y="54.3" width="5.4" height="5.4" fill="#444" stroke="#111" stroke-width="1"/>
<line x1="680" y1="73.4" x2="700" y2="73.4" stroke="#555" stroke-width="1.5"/>
<circle cx="690" cy="73.4" r="3.2" fill="#777" stroke="#111" stroke-width="1.4"/>
<line x1="680" y1="89.3" x2="700" y2="89.3" stroke="#999" stroke-width="1.5"/>
<path d="M690,84.66 L694.3,92.14 L685.7,92.14 Z" fill="#fff" stroke="#111" stroke-width="1.6" stroke-linejoin="miter"/>
<text x="704.8" y="62.6" font-size="12.1" fill="#333" text-anchor="start" font-weight="normal" >GFP n=5</text>
<text x="704.8" y="78.4" font-size="12.1" fill="#333" text-anchor="start" font-weight="normal" >Head n=5</text>
<text x="704.8" y="94.1" font-size="12.1" fill="#333" text-anchor="start" font-weight="normal" xml:space="preserve">Rod  n=5</text>
<text x="5.6" y="246.4" font-size="22" fill="#1a1a1a" text-anchor="start" font-weight="bold" >E</text>
<line x1="62" y1="245" x2="62" y2="397.1" stroke="#1a1a1a" stroke-width="1.5"/>
<line x1="62" y1="396.4" x2="212.6" y2="396.4" stroke="#1a1a1a" stroke-width="1.5"/>
<line x1="59" y1="257" x2="62" y2="257" stroke="#1a1a1a" stroke-width="1.3"/>
<line x1="59" y1="315.1" x2="62" y2="315.1" stroke="#1a1a1a" stroke-width="1.3"/>
<line x1="59" y1="373.2" x2="62" y2="373.2" stroke="#1a1a1a" stroke-width="1.3"/>
<line x1="60" y1="286.05" x2="62" y2="286.05" stroke="#1a1a1a" stroke-width="1.2"/>
<line x1="60" y1="344.15" x2="62" y2="344.15" stroke="#1a1a1a" stroke-width="1.2"/>
<line x1="99.65" y1="396.4" x2="99.65" y2="399.2" stroke="#1a1a1a" stroke-width="1.3"/>
<line x1="137.3" y1="396.4" x2="137.3" y2="399.2" stroke="#1a1a1a" stroke-width="1.3"/>
<line x1="174.95" y1="396.4" x2="174.95" y2="399.2" stroke="#1a1a1a" stroke-width="1.3"/>
<line x1="212.6" y1="396.4" x2="212.6" y2="399.2" stroke="#1a1a1a" stroke-width="1.3"/>
<text x="55.6" y="261.2" font-size="11.5" fill="#333" text-anchor="end" font-weight="normal" >0.0</text>
<text x="55.6" y="319.3" font-size="11.5" fill="#333" text-anchor="end" font-weight="normal" >0.5</text>
<text x="55.6" y="377.4" font-size="11.5" fill="#333" text-anchor="end" font-weight="normal" >1.0</text>
<text x="62" y="412.7" font-size="11.8" fill="#333" text-anchor="middle" font-weight="normal" >0</text>
<text x="137.3" y="412.7" font-size="11.8" fill="#333" text-anchor="middle" font-weight="normal" >600</text>
<text x="212.6" y="412.7" font-size="11.8" fill="#333" text-anchor="middle" font-weight="normal" >1200</text>
<text x="112" y="425.8" font-size="12.2" fill="#333" text-anchor="start" font-weight="normal" >Time (ms)</text>
<text x="83" y="267.8" font-size="11.8" fill="#222" text-anchor="start" font-weight="normal" >GFP</text>
<rect x="62" y="255.5" width="2.9" height="3" fill="#111" stroke="none" stroke-width="0"/>
<path d="M64.9,244.6 L65.2,257 L65.5,370 Q66,372 66.8,370" fill="none" stroke="#111" stroke-width="1.7"/>
<polyline points="66.8,370 67.3,366.67 67.8,363.33 68.3,360.54 68.8,358.1 69.3,355.67 69.8,353.23 70.3,350.8 70.8,349.17 71.3,347.54 71.8,345.38 72.3,343.74 72.8,342.42 73.3,342.07 73.8,340.06 74.3,340.72 74.8,339.24 75.3,338.02 75.8,336.36 76.3,336.73 76.8,336.32 77.3,333.73 77.8,335.19 78.3,334.79 78.8,333.05 79.3,332.42 79.8,333.11 80.3,331.65 80.8,329.6 81.3,329.8 81.8,329.24 82.3,328.79 82.8,326.67 83.3,328.56 83.8,327.05 84.3,327.2 84.8,326.52 85.3,326.82 85.8,325.49 86.3,324.65 86.8,325.19 87.3,325.39 87.8,323.64 88.3,324.5 88.8,323.3 89.3,322.33 89.8,323.51 90.3,321.38 90.8,322.38 91.3,320.87 91.8,321.21 92.3,319.58 92.8,319.51 93.3,320.56 93.8,319.53 94.3,319.05 94.8,318.32 95.3,318.66 95.8,316.99 96.3,316.9 96.8,317.33 97.3,316.53 97.8,316.34 98.3,316.52 98.8,316.18 99.3,315.82 99.8,316.95 100.3,316.17 100.8,316.04 101.3,314.8 101.8,314.15 102.3,313.16 102.8,313.75 103.3,312.2 103.8,313.08 104.3,313.85 104.8,314.25 105.3,313.51 105.8,311.9 106.3,312.67 106.8,311.47 107.3,312.43 107.8,311.49 108.3,311.97 108.8,313.01 109.3,311.53 109.8,312.35 110.3,310.54 110.8,310.01 111.3,311.11 111.8,311.25 112.3,309.39 112.8,309.72 113.3,308.43 113.8,309.21 114.3,309.88 114.8,309 115.3,308.48 115.8,307.7 116.3,308.89 116.8,309.06 117.3,308.76 117.8,308.35 118.3,307.05 118.8,309.18 119.3,307.67 119.8,307.45 120.3,307.96 120.8,305.64 121.3,307.04 121.8,306.81 122.3,307.01 122.8,307.56 123.3,306.72 123.8,304.81 124.3,305.75 124.8,305.98 125.3,305.76 125.8,304.5 126.3,304.04 126.8,305.51 127.3,305.18 127.8,304.73 128.3,303.27 128.8,305.71 129.3,302.02 129.8,303.75 130.3,305.41 130.8,303.54 131.3,303.65 131.8,302.41 132.3,304.13 132.8,301.96 133.3,302.94 133.8,302.67 134.3,301.66 134.8,303.02 135.3,301.2 135.8,301.66 136.3,302.06 136.8,301.68 137.3,302.25 137.8,302.5 138.3,301.49 138.8,301.21 139.3,301.14 139.8,301.16 140.3,301.96 140.8,301.12 141.3,301.52 141.8,301.07 142.3,300.43 142.8,301.64 143.3,300.14 143.8,300.85 144.3,301.89 144.8,299.88 145.3,300.59 145.8,299.37 146.3,300.1 146.8,299.29 147.3,300.07 147.8,299.87 148.3,300.3 148.8,301.31 149.3,300.26 149.8,300.47 150.3,299.87 150.8,299.65 151.3,299.14 151.8,298.34 152.3,299.67 152.8,300.77 153.3,299.83 153.8,299 154.3,300.56 154.8,298.93 155.3,298.72 155.8,298.2 156.3,298.31 156.8,298.78 157.3,300.39 157.8,298.66 158.3,297.97 158.8,298.22 159.3,298.43 159.8,297.25 160.3,298.55 160.8,298.91 161.3,298.55 161.8,298.69 162.3,297.2 162.8,296.82 163.3,298.98 163.8,298.77 164.3,296.72 164.8,297.96 165.3,297.75 165.8,298.06 166.3,297.74 166.8,297.13 167.3,297.58 167.8,297.48 168.3,297.25 168.8,295.83 169.3,294.9 169.8,296.48 170.3,295.77 170.8,297.12 171.3,297.39 171.8,296.98 172.3,296.43 172.8,296.69 173.3,297.44 173.8,295.94 174.3,297.11 174.8,296.88 175.3,296.47 175.8,297.29 176.3,295.59 176.8,296.76 177.3,295.28 177.8,295.33 178.3,295.04 178.8,296.1 179.3,294.98 179.8,295.66 180.3,294.69 180.8,296.27 181.3,296.78 181.8,295.49 182.3,296.48 182.8,295.6 183.3,296.73 183.8,295.11 184.3,293.78 184.8,296.01 185.3,294.72 185.8,293.97 186.3,294.18 186.8,293.38 187.3,294.4 187.8,293.65 188.3,295.49 188.8,294.8 189.3,292.99 189.8,293.03 190.3,293.66 190.8,292.57" fill="none" stroke="#111" stroke-width="2.7" stroke-linejoin="round" />
<path d="M190.9,312.9 L190.9,262 Q191.2,257.5 194.5,257" fill="none" stroke="#111" stroke-width="1.6"/>
<circle cx="194.4" cy="257.3" r="1.6" fill="#111"/>
<line x1="246.7" y1="245" x2="246.7" y2="397.1" stroke="#1a1a1a" stroke-width="1.5"/>
<line x1="246.7" y1="396.4" x2="397.3" y2="396.4" stroke="#1a1a1a" stroke-width="1.5"/>
<line x1="243.7" y1="257" x2="246.7" y2="257" stroke="#1a1a1a" stroke-width="1.3"/>
<line x1="243.7" y1="315.1" x2="246.7" y2="315.1" stroke="#1a1a1a" stroke-width="1.3"/>
<line x1="243.7" y1="373.2" x2="246.7" y2="373.2" stroke="#1a1a1a" stroke-width="1.3"/>
<line x1="244.7" y1="286.05" x2="246.7" y2="286.05" stroke="#1a1a1a" stroke-width="1.2"/>
<line x1="244.7" y1="344.15" x2="246.7" y2="344.15" stroke="#1a1a1a" stroke-width="1.2"/>
<line x1="284.35" y1="396.4" x2="284.35" y2="399.2" stroke="#1a1a1a" stroke-width="1.3"/>
<line x1="322" y1="396.4" x2="322" y2="399.2" stroke="#1a1a1a" stroke-width="1.3"/>
<line x1="359.65" y1="396.4" x2="359.65" y2="399.2" stroke="#1a1a1a" stroke-width="1.3"/>
<line x1="397.3" y1="396.4" x2="397.3" y2="399.2" stroke="#1a1a1a" stroke-width="1.3"/>
<text x="240.3" y="261.2" font-size="11.5" fill="#333" text-anchor="end" font-weight="normal" >0.0</text>
<text x="240.3" y="319.3" font-size="11.5" fill="#333" text-anchor="end" font-weight="normal" >0.5</text>
<text x="240.3" y="377.4" font-size="11.5" fill="#333" text-anchor="end" font-weight="normal" >1.0</text>
<text x="246.7" y="412.7" font-size="11.8" fill="#333" text-anchor="middle" font-weight="normal" >0</text>
<text x="322" y="412.7" font-size="11.8" fill="#333" text-anchor="middle" font-weight="normal" >600</text>
<text x="397.3" y="412.7" font-size="11.8" fill="#333" text-anchor="middle" font-weight="normal" >1200</text>
<text x="296.7" y="425.8" font-size="12.2" fill="#333" text-anchor="start" font-weight="normal" >Time (ms)</text>
<text x="266.8" y="267.8" font-size="11.8" fill="#222" text-anchor="start" font-weight="normal" >WT</text>
<rect x="246.7" y="255.5" width="3.6" height="3" fill="#111" stroke="none" stroke-width="0"/>
<path d="M250.3,244.6 L250.6,257 L250.9,370 Q251.4,374 251.5,372" fill="none" stroke="#111" stroke-width="1.7"/>
<polyline points="251.5,372 252,368.92 252.5,365.85 253,362.95 253.5,360.33 254,357.71 254.5,355.09 255,352.47 255.5,350.39 256,349.11 256.5,347.75 257,346.52 257.5,344.7 258,343.59 258.5,343.59 259,343.5 259.5,342.78 260,340.9 260.5,340.74 261,338.76 261.5,338.91 262,337.23 262.5,337.84 263,335.7 263.5,335.25 264,335.31 264.5,335.08 265,332.92 265.5,333.21 266,333.33 266.5,333.01 267,331.83 267.5,332.14 268,331.48 268.5,332.35 269,331.33 269.5,329.53 270,328.49 270.5,329.83 271,330.28 271.5,329.17 272,329.35 272.5,327.98 273,326.97 273.5,328.21 274,327.37 274.5,327.46 275,325.56 275.5,326.38 276,325.43 276.5,326.15 277,324.76 277.5,324.39 278,324.06 278.5,325.21 279,324.05 279.5,323.23 280,322.8 280.5,322.55 281,324.19 281.5,321.5 282,321.99 282.5,322.88 283,323.05 283.5,321.82 284,322.28 284.5,322.03 285,321.97 285.5,321.03 286,322 286.5,320.69 287,321.45 287.5,319.27 288,320.61 288.5,318.77 289,318.39 289.5,319.7 290,318.51 290.5,319.27 291,317.94 291.5,319.76 292,318.37 292.5,317.32 293,318.11 293.5,318.44 294,317.01 294.5,317.78 295,318.74 295.5,317.66 296,316.81 296.5,316.19 297,316.86 297.5,315.1 298,313.76 298.5,315.38 299,314.92 299.5,316.88 300,315.52 300.5,314.52 301,314.23 301.5,315.32 302,314.17 302.5,314.2 303,314.41 303.5,314.39 304,314.25 304.5,314.1 305,314.84 305.5,314.98 306,312.31 306.5,315.33 307,313.34 307.5,314.02 308,312.37 308.5,313.02 309,312.78 309.5,312.55 310,312.94 310.5,312.62 311,311.26 311.5,311.83 312,312.36 312.5,312.23 313,311.37 313.5,311.31 314,311.3 314.5,310.49 315,310.25 315.5,312.3 316,310.72 316.5,310.99 317,310.26 317.5,311.7 318,311.94 318.5,310.36 319,310.81 319.5,309.76 320,311.55 320.5,310.82 321,309.4 321.5,310.86 322,310.1 322.5,310.04 323,309.89 323.5,309.03 324,309.02 324.5,309.79 325,309.19 325.5,308.42 326,310.55 326.5,308.77 327,308.41 327.5,308.2 328,309.14 328.5,309.26 329,308.61 329.5,308.98 330,307.1 330.5,307.85 331,307.68 331.5,307.93 332,308.19 332.5,306.2 333,309.97 333.5,306.88 334,307.69 334.5,307.95 335,307.89 335.5,307.36 336,304.92 336.5,306.21 337,307.51 337.5,306.18 338,306 338.5,304.95 339,307.55 339.5,306.94 340,305.81 340.5,306.3 341,306.25 341.5,305.41 342,305.96 342.5,306.28 343,306.43 343.5,306.88 344,305.88 344.5,305.43 345,306 345.5,305.15 346,304.61 346.5,306.33 347,305.11 347.5,305.41 348,305.73 348.5,304.33 349,305.57 349.5,305.35 350,304.86 350.5,305.15 351,304.21 351.5,303.05 352,304.42 352.5,303.87 353,305.13 353.5,304.6 354,303.93 354.5,304.28 355,305.19 355.5,304.95 356,304.3 356.5,304.27 357,303.66 357.5,303.69 358,304.16 358.5,303.55 359,303.79 359.5,302.66 360,302.17 360.5,302.07 361,302.95 361.5,304.2 362,304.02 362.5,302.31 363,301.82 363.5,303.51 364,303.19 364.5,301.74 365,303.49 365.5,302.75 366,303.54 366.5,302.73 367,303.07 367.5,302.57 368,301.54 368.5,302.01 369,301.6 369.5,302.66 370,301.22 370.5,300.74 371,302.33 371.5,302.61 372,302.76 372.5,302.42 373,300.4 373.5,300.93 374,300.97 374.5,301.29" fill="none" stroke="#111" stroke-width="2.7" stroke-linejoin="round" />
<path d="M374.5,323.8 L374.5,262 Q374.8,257.5 378.1,257" fill="none" stroke="#111" stroke-width="1.6"/>
<circle cx="378" cy="257.3" r="1.6" fill="#111"/>
<line x1="431.2" y1="245" x2="431.2" y2="397.1" stroke="#1a1a1a" stroke-width="1.5"/>
<line x1="431.2" y1="396.4" x2="581.8" y2="396.4" stroke="#1a1a1a" stroke-width="1.5"/>
<line x1="428.2" y1="257" x2="431.2" y2="257" stroke="#1a1a1a" stroke-width="1.3"/>
<line x1="428.2" y1="315.1" x2="431.2" y2="315.1" stroke="#1a1a1a" stroke-width="1.3"/>
<line x1="428.2" y1="373.2" x2="431.2" y2="373.2" stroke="#1a1a1a" stroke-width="1.3"/>
<line x1="429.2" y1="286.05" x2="431.2" y2="286.05" stroke="#1a1a1a" stroke-width="1.2"/>
<line x1="429.2" y1="344.15" x2="431.2" y2="344.15" stroke="#1a1a1a" stroke-width="1.2"/>
<line x1="468.85" y1="396.4" x2="468.85" y2="399.2" stroke="#1a1a1a" stroke-width="1.3"/>
<line x1="506.5" y1="396.4" x2="506.5" y2="399.2" stroke="#1a1a1a" stroke-width="1.3"/>
<line x1="544.15" y1="396.4" x2="544.15" y2="399.2" stroke="#1a1a1a" stroke-width="1.3"/>
<line x1="581.8" y1="396.4" x2="581.8" y2="399.2" stroke="#1a1a1a" stroke-width="1.3"/>
<text x="424.8" y="261.2" font-size="11.5" fill="#333" text-anchor="end" font-weight="normal" >0.0</text>
<text x="424.8" y="319.3" font-size="11.5" fill="#333" text-anchor="end" font-weight="normal" >0.5</text>
<text x="424.8" y="377.4" font-size="11.5" fill="#333" text-anchor="end" font-weight="normal" >1.0</text>
<text x="431.2" y="412.7" font-size="11.8" fill="#333" text-anchor="middle" font-weight="normal" >0</text>
<text x="506.5" y="412.7" font-size="11.8" fill="#333" text-anchor="middle" font-weight="normal" >600</text>
<text x="581.8" y="412.7" font-size="11.8" fill="#333" text-anchor="middle" font-weight="normal" >1200</text>
<text x="481.2" y="425.8" font-size="12.2" fill="#333" text-anchor="start" font-weight="normal" >Time (ms)</text>
<text x="447.9" y="267.8" font-size="11.8" fill="#222" text-anchor="start" font-weight="normal" >Head</text>
<rect x="431.2" y="255.5" width="3.6" height="3" fill="#111" stroke="none" stroke-width="0"/>
<path d="M434.8,244.6 L435.1,257 L435.4,370 Q435.9,375 435.8,373" fill="none" stroke="#111" stroke-width="1.7"/>
<polyline points="435.8,373 436.3,366.13 436.8,359.71 437.3,354 437.8,348.29 438.3,344.6 438.8,342.27 439.3,339.93 439.8,338.31 440.3,337.16 440.8,334.4 441.3,334.86 441.8,333.81 442.3,331.54 442.8,330.99 443.3,330.44 443.8,328.6 444.3,328.62 444.8,327.84 445.3,326.65 445.8,325.89 446.3,324.61 446.8,325.23 447.3,323.35 447.8,322.59 448.3,323.05 448.8,321.38 449.3,321.66 449.8,321.54 450.3,320.37 450.8,320.05 451.3,320.33 451.8,319.87 452.3,317.82 452.8,317.66 453.3,319.31 453.8,318.27 454.3,316.08 454.8,316.3 455.3,317 455.8,315.93 456.3,316.8 456.8,316.29 457.3,316.38 457.8,314.92 458.3,316.04 458.8,316.82 459.3,314.54 459.8,315.9 460.3,315.44 460.8,314.96 461.3,314.21 461.8,313.17 462.3,313.16 462.8,314.18 463.3,314.16 463.8,314.2 464.3,313.86 464.8,313.67 465.3,312.52 465.8,311.79 466.3,312.7 466.8,312.78 467.3,312.32 467.8,310.97 468.3,311.57 468.8,310.71 469.3,311.78 469.8,310.73 470.3,311.25 470.8,311.47 471.3,311.19 471.8,311.96 472.3,309.97 472.8,309.06 473.3,311.3 473.8,311.55 474.3,311.47 474.8,310.51 475.3,310.59 475.8,310.18 476.3,309.02 476.8,309.46 477.3,310.16 477.8,309.25 478.3,311.01 478.8,308.32 479.3,309.05 479.8,310.11 480.3,308.72 480.8,308.22 481.3,307.95 481.8,308.33 482.3,309.9 482.8,308.97 483.3,308.95 483.8,308.07 484.3,309 484.8,308.34 485.3,307.47 485.8,307.72 486.3,308.11 486.8,308.73 487.3,307.71 487.8,308.03 488.3,309.07 488.8,306.85 489.3,306.42 489.8,307.98 490.3,307.47 490.8,306.97 491.3,307.14 491.8,306.59 492.3,307.12 492.8,306.38 493.3,307.13 493.8,305.55 494.3,305.72 494.8,306.32 495.3,305.78 495.8,306.55 496.3,305.92 496.8,305.47 497.3,305.96 497.8,305.33 498.3,304.49 498.8,304.73 499.3,304.91 499.8,305.08 500.3,305.43 500.8,305.97 501.3,305.62 501.8,306.47 502.3,306.02 502.8,304.85 503.3,306.15 503.8,305.73 504.3,304.43 504.8,304.93 505.3,305.44 505.8,304.73 506.3,305.23 506.8,304.69 507.3,304.85 507.8,304.01 508.3,304.46 508.8,303.83 509.3,304.53 509.8,302.68 510.3,304.13 510.8,304.74 511.3,304.16 511.8,303.63 512.3,303.98 512.8,302.87 513.3,302.81 513.8,303.09 514.3,303.17 514.8,303.93 515.3,302.46 515.8,303.81 516.3,301.8 516.8,302.32 517.3,302.81 517.8,303.63 518.3,302.22 518.8,301 519.3,302.85 519.8,302.48 520.3,301.65 520.8,301.64 521.3,301.87 521.8,302.43 522.3,302.82 522.8,301.17 523.3,303.96 523.8,302.18 524.3,301.89 524.8,302.64 525.3,302.18 525.8,303.82 526.3,302.85 526.8,301.72 527.3,301.66 527.8,301.55 528.3,301.63 528.8,302.35 529.3,301.33 529.8,302.99 530.3,301.68 530.8,301.6 531.3,302.38 531.8,300.15 532.3,300.89 532.8,302.01 533.3,301.53 533.8,301.48 534.3,301.75 534.8,300.96 535.3,301.25 535.8,300.32 536.3,299.9 536.8,302.22 537.3,300.54 537.8,300.66 538.3,302.21 538.8,301.92 539.3,300.7 539.8,300.66 540.3,300.96 540.8,300.27 541.3,301.36 541.8,301.02 542.3,300.97 542.8,301.4 543.3,301.32 543.8,302.11 544.3,301.81 544.8,299.34 545.3,301.24 545.8,299.67 546.3,299.39 546.8,300.94 547.3,299.82 547.8,300.06 548.3,301.04 548.8,299.69 549.3,299.46 549.8,300.32 550.3,300.94 550.8,300.36 551.3,298.75 551.8,299.37 552.3,299.69 552.8,301.2 553.3,300.36 553.8,300.28 554.3,300.49 554.8,299.3 555.3,299.84 555.8,299.79 556.3,298.63 556.8,299.3 557.3,299.68 557.8,298.39 558.3,299.75 558.8,299.66 559.3,299.82" fill="none" stroke="#111" stroke-width="2.7" stroke-linejoin="round" />
<path d="M559.4,319 L559.4,262 Q559.7,257.5 563,257" fill="none" stroke="#111" stroke-width="1.6"/>
<circle cx="562.9" cy="257.3" r="1.6" fill="#111"/>
<line x1="0" y1="0" x2="0" y2="0" stroke="#1a1a1a" stroke-width="0"/>
<text transform="translate(23.8,367.3) rotate(-90)" font-size="15.2" fill="#333" text-anchor="start" >Normalized I<tspan font-size="12.5" dy="3.5">Ca</tspan></text>
<text x="577.8" y="246.4" font-size="22" fill="#1a1a1a" text-anchor="start" font-weight="bold" >F</text>
<line x1="633.6" y1="250.1" x2="633.6" y2="412.6" stroke="#1a1a1a" stroke-width="1.5"/>
<line x1="633.6" y1="412.1" x2="785.3" y2="412.1" stroke="#1a1a1a" stroke-width="1.7"/>
<line x1="629.6" y1="250.1" x2="633.6" y2="250.1" stroke="#1a1a1a" stroke-width="1.4"/>
<line x1="629.6" y1="412.1" x2="633.6" y2="412.1" stroke="#1a1a1a" stroke-width="1.4"/>
<line x1="631.6" y1="331.1" x2="633.6" y2="331.1" stroke="#1a1a1a" stroke-width="1.2"/>
<text x="626.3" y="255.5" font-size="11.5" fill="#333" text-anchor="end" font-weight="normal" >0.5</text>
<text x="626.3" y="416.3" font-size="11.5" fill="#333" text-anchor="end" font-weight="normal" >0.0</text>
<line x1="664.05" y1="283.6" x2="664.05" y2="292.5" stroke="#1a1a1a" stroke-width="2.1"/>
<line x1="659.75" y1="283.6" x2="668.35" y2="283.6" stroke="#1a1a1a" stroke-width="2.2"/>
<rect x="653.1" y="293.3" width="21.9" height="118.8" fill="#000" stroke="#111" stroke-width="1.6"/>
<text transform="translate(668.65,395.5) rotate(-90)" font-size="12.3" fill="#fff" text-anchor="start" >GFP, n=10</text>
<line x1="709.15" y1="270.8" x2="709.15" y2="281.7" stroke="#1a1a1a" stroke-width="2.1"/>
<line x1="704.85" y1="270.8" x2="713.45" y2="270.8" stroke="#1a1a1a" stroke-width="2.2"/>
<rect x="698.3" y="282.5" width="21.7" height="129.6" fill="#fff" stroke="#111" stroke-width="1.6"/>
<text transform="translate(713.75,395.5) rotate(-90)" font-size="12.3" fill="#222" text-anchor="start" >WT, n=8</text>
<line x1="754.9" y1="299" x2="754.9" y2="307.5" stroke="#1a1a1a" stroke-width="2.1"/>
<line x1="750.6" y1="299" x2="759.2" y2="299" stroke="#1a1a1a" stroke-width="2.2"/>
<rect x="744.2" y="308.3" width="21.4" height="103.8" fill="#666" stroke="#111" stroke-width="1.6"/>
<text transform="translate(759.5,395.5) rotate(-90)" font-size="12.3" fill="#fff" text-anchor="start" >Head, n=8</text>
<text transform="translate(605.4,365.6) rotate(-90)" font-size="15.8" fill="#333" text-anchor="start" >I<tspan font-size="12.4" dy="3.5">end</tspan><tspan dy="-3.5" xml:space="preserve"> / I</tspan><tspan font-size="12.4" dy="3.5">peak</tspan></text>
<text x="167" y="457" font-size="22" fill="#1a1a1a" text-anchor="start" font-weight="bold" >G</text>
<text x="181.6" y="503.5" font-size="16.4" fill="#222" text-anchor="start" font-weight="normal" >StrAv</text>
<text x="181.3" y="533.7" font-size="16.8" fill="#222" text-anchor="start" font-weight="normal" >α<tspan font-size="12" dy="3">1</tspan><tspan dy="-3">1.2</tspan></text>
<defs>
<linearGradient id="bandTop" x1="0" y1="0" x2="0" y2="1">
<stop offset="0" stop-color="#d0d0d0"/><stop offset="0.5" stop-color="#b4b4b4"/><stop offset="1" stop-color="#cfcfcf"/></linearGradient>
<filter id="blur1" x="-30%" y="-80%" width="160%" height="260%"><feGaussianBlur stdDeviation="2.2"/></filter>
<filter id="blur2" x="-20%" y="-50%" width="140%" height="200%"><feGaussianBlur stdDeviation="1.0"/></filter>
</defs>
<rect x="229.4" y="489" width="120.3" height="22.5" fill="#d9d9d9" stroke="none" stroke-width="0"/>
<g filter="url(#blur1)">
<rect x="232" y="494" width="26" height="11" rx="4" fill="#adadad"/>
<rect x="261" y="495" width="26" height="10" rx="4" fill="#bdbdbd"/>
<rect x="289" y="492" width="27" height="13" rx="4" fill="#b3b3b3"/>
<rect x="320" y="497" width="26" height="7" rx="3" fill="#d0d0d0"/>
</g>
<rect x="229.4" y="515.7" width="120.3" height="25" fill="#c8c8c8" stroke="none" stroke-width="0"/>
<g filter="url(#blur2)">
<rect x="232.5" y="523.3" width="25" height="10.8" rx="4" fill="#111"/>
<rect x="260.5" y="523.3" width="26" height="10.8" rx="4" fill="#141414"/>
<path d="M289,524.8 Q288,528.7 289,532.8 L305,532.8 Q310,535.5 313,535 Q316,533 316,528.7 Q316,524.5 313,522.6 Q310,522 305,525 Z" fill="#181818"/>
</g>
<rect x="258.3" y="489" width="1.6" height="52" fill="#ffffff" stroke="none" stroke-width="0"/>
<line x1="230.8" y1="545.1" x2="314.3" y2="545.1" stroke="#555" stroke-width="1.2"/>
<line x1="319.4" y1="545.1" x2="345.1" y2="545.1" stroke="#555" stroke-width="1.2"/>
<text x="219.7" y="560.4" font-size="12.2" fill="#333" text-anchor="start" font-weight="normal" >IP:</text>
<text x="259.6" y="561.4" font-size="13.5" fill="#333" text-anchor="start" font-weight="normal" >α<tspan font-size="10" dy="2.5">1</tspan><tspan dy="-2.5">1.2</tspan></text>
<text x="323.3" y="561" font-size="12.5" fill="#333" text-anchor="start" font-weight="normal" >IgG</text>
<text transform="translate(245.5,482) rotate(-45)" font-size="11.6" fill="#222" text-anchor="start" >GFP</text>
<text transform="translate(273.5,482) rotate(-45)" font-size="11.6" fill="#222" text-anchor="start" >Head</text>
<text transform="translate(302.5,482) rotate(-45)" font-size="11.6" fill="#222" text-anchor="start" >Rod</text>
<text transform="translate(333.5,482) rotate(-45)" font-size="11.6" fill="#222" text-anchor="start" >Mix</text>
<text x="377" y="457" font-size="22" fill="#1a1a1a" text-anchor="start" font-weight="bold" >H</text>
<line x1="468.2" y1="449.4" x2="468.2" y2="582.8" stroke="#1a1a1a" stroke-width="1.6"/>
<line x1="468.2" y1="582.3" x2="621" y2="582.3" stroke="#1a1a1a" stroke-width="1.7"/>
<line x1="464.2" y1="582.3" x2="468.2" y2="582.3" stroke="#1a1a1a" stroke-width="1.5"/>
<line x1="464.2" y1="527.2" x2="468.2" y2="527.2" stroke="#1a1a1a" stroke-width="1.5"/>
<line x1="464.2" y1="472.1" x2="468.2" y2="472.1" stroke="#1a1a1a" stroke-width="1.5"/>
<text x="462.5" y="587.1" font-size="13.2" fill="#333" text-anchor="end" font-weight="normal" >0.0</text>
<text x="462.5" y="532" font-size="13.2" fill="#333" text-anchor="end" font-weight="normal" >0.5</text>
<text x="462.5" y="476.9" font-size="13.2" fill="#333" text-anchor="end" font-weight="normal" >1.0</text>
<line x1="493.6" y1="465.8" x2="493.6" y2="470.8" stroke="#1a1a1a" stroke-width="1.8"/>
<line x1="486.8" y1="465.8" x2="500.4" y2="465.8" stroke="#1a1a1a" stroke-width="1.8"/>
<rect x="481.1" y="471.6" width="25" height="110.7" fill="#000" stroke="#111" stroke-width="1.6"/>
<text transform="translate(498.6,576.4) rotate(-90)" font-size="13.4" fill="#fff" text-anchor="start" >GFP</text>
<text transform="translate(498.6,513.2) rotate(-90)" font-size="13.4" fill="#fff" text-anchor="end" >n=18</text>
<line x1="544.6" y1="486.6" x2="544.6" y2="494.1" stroke="#1a1a1a" stroke-width="1.8"/>
<line x1="537.8" y1="486.6" x2="551.4" y2="486.6" stroke="#1a1a1a" stroke-width="1.8"/>
<rect x="532.3" y="494.9" width="24.6" height="87.4" fill="#666" stroke="#111" stroke-width="1.6"/>
<text transform="translate(549.6,575.6) rotate(-90)" font-size="13.4" fill="#fff" text-anchor="start" >Head</text>
<text transform="translate(549.6,508.8) rotate(-90)" font-size="13.4" fill="#fff" text-anchor="end" >n=18</text>
<line x1="595.6" y1="500.1" x2="595.6" y2="505.2" stroke="#1a1a1a" stroke-width="1.8"/>
<line x1="588.8" y1="500.1" x2="602.4" y2="500.1" stroke="#1a1a1a" stroke-width="1.8"/>
<rect x="583.3" y="506" width="24.6" height="76.3" fill="#b3b3b3" stroke="#111" stroke-width="1.6"/>
<text transform="translate(600.6,574.2) rotate(-90)" font-size="13.4" fill="#222" text-anchor="start" >Rod</text>
<text transform="translate(600.6,515) rotate(-90)" font-size="13.4" fill="#222" text-anchor="end" >n=18</text>
<text x="544.6" y="487" font-size="19.5" fill="#222" text-anchor="middle" font-weight="normal" >*</text>
<text x="595.8" y="498" font-size="17" fill="#222" text-anchor="middle" font-weight="normal" >**</text>
<text transform="translate(419,585.2) rotate(-90)" font-size="14" fill="#333" text-anchor="start" >Relative Surface α<tspan font-size="10" dy="3">1</tspan><tspan dy="-3">1.2</tspan></text>
<text transform="translate(436.8,579.7) rotate(-90)" font-size="14.8" fill="#333" text-anchor="start" >(Biotinylated/Total)</text>
</svg></body></html>
